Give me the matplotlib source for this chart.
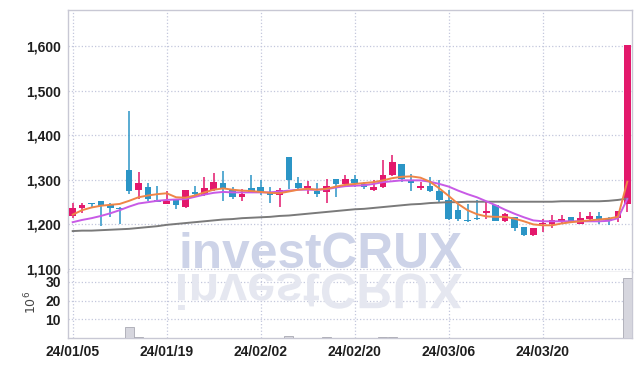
import numpy as np
import matplotlib
matplotlib.use('Agg')
import matplotlib.pyplot as plt
from matplotlib.textpath import TextPath
from matplotlib.patches import PathPatch
from matplotlib.font_manager import FontProperties
from matplotlib.transforms import Affine2D, IdentityTransform

# данные свечей (O, H, L, C)
opens = [1219, 1236, 1249, 1252, 1243, 1238, 1323, 1278, 1283, 1254,
         1245, 1257, 1240, 1272, 1266, 1278, 1293, 1280, 1261, 1281,
         1285, 1271, 1266, 1352, 1292, 1282, 1275, 1272, 1301, 1290,
         1303, 1291, 1277, 1284, 1311, 1336, 1299, 1281, 1287, 1276,
         1254, 1232, 1211, 1214, 1226, 1243, 1207, 1216, 1194, 1177,
         1201, 1202, 1205, 1217, 1202, 1213, 1218, 1213, 1215, 1246]
highs = [1247, 1249, 1249, 1252, 1249, 1240, 1455, 1318, 1293, 1286,
         1275, 1257, 1278, 1286, 1306, 1316, 1321, 1284, 1280, 1312,
         1300, 1284, 1282, 1352, 1306, 1297, 1292, 1301, 1301, 1312,
         1312, 1295, 1299, 1344, 1356, 1336, 1313, 1295, 1306, 1299,
         1278, 1246, 1246, 1254, 1252, 1243, 1226, 1216, 1194, 1191,
         1213, 1222, 1222, 1217, 1228, 1229, 1228, 1217, 1231, 1603]
lows = [1215, 1226, 1237, 1196, 1217, 1202, 1269, 1256, 1252, 1251,
        1245, 1235, 1237, 1266, 1263, 1275, 1252, 1256, 1252, 1271,
        1267, 1248, 1239, 1280, 1280, 1269, 1262, 1248, 1262, 1286,
        1285, 1280, 1274, 1281, 1309, 1295, 1275, 1277, 1273, 1251,
        1211, 1208, 1205, 1211, 1213, 1207, 1205, 1185, 1174, 1175,
        1183, 1193, 1202, 1205, 1200, 1205, 1202, 1198, 1205, 1228]
closes = [1237, 1243, 1245, 1241, 1236, 1235, 1276, 1294, 1258, 1251,
          1252, 1243, 1278, 1268, 1281, 1296, 1281, 1261, 1269, 1273,
          1273, 1266, 1278, 1299, 1281, 1287, 1269, 1287, 1291, 1303,
          1294, 1285, 1285, 1310, 1340, 1303, 1294, 1287, 1275, 1254,
          1213, 1213, 1208, 1212, 1230, 1208, 1224, 1192, 1177, 1191,
          1203, 1209, 1213, 1208, 1215, 1218, 1211, 1208, 1231, 1603]

ma_short = [1222, 1232, 1238, 1242, 1244, 1246, 1253, 1261, 1265, 1268,
            1270, 1261, 1260, 1265, 1272, 1278, 1281, 1278, 1276, 1275,
            1273, 1271, 1270, 1274, 1278, 1280, 1278, 1280, 1285, 1289,
            1291, 1293, 1295, 1299, 1304, 1307, 1308, 1305, 1296, 1281,
            1264, 1246, 1232, 1223, 1218, 1217, 1217, 1213, 1207, 1200,
            1198, 1198, 1202, 1205, 1207, 1209, 1211, 1213, 1217, 1296]
ma_mid = [1205, 1210, 1214, 1219, 1225, 1232, 1240, 1247, 1250, 1253,
          1255, 1256, 1257, 1262, 1267, 1271, 1273, 1272, 1272, 1272,
          1272, 1272, 1274, 1276, 1278, 1278, 1278, 1279, 1283, 1286,
          1287, 1288, 1291, 1295, 1297, 1299, 1299, 1299, 1296, 1291,
          1285, 1276, 1268, 1261, 1252, 1243, 1233, 1224, 1216, 1209,
          1207, 1207, 1207, 1207, 1207, 1207, 1207, 1208, 1214, 1257]
ma_long = [1185, 1186, 1186, 1187, 1188, 1189, 1190, 1192, 1194, 1196,
           1199, 1201, 1203, 1205, 1207, 1209, 1211, 1212, 1214, 1215,
           1216, 1217, 1219, 1220, 1222, 1224, 1226, 1228, 1230, 1232,
           1234, 1235, 1237, 1239, 1241, 1243, 1245, 1246, 1248, 1249,
           1250, 1250, 1251, 1251, 1251, 1251, 1251, 1251, 1251, 1251,
           1251, 1251, 1252, 1252, 1252, 1252, 1252, 1253, 1255, 1258]

# объём, млн
volume = [0.1, 0.1, 0.1, 0.1, 0.1, 0.1, 5.8, 0.6, 0.1, 0.1,
          0.1, 0.1, 0.1, 0.1, 0.1, 0.1, 0.1, 0.1, 0.1, 0.1,
          0.1, 0.1, 0.1, 0.9, 0.1, 0.1, 0.1, 0.5, 0.1, 0.1,
          0.1, 0.1, 0.1, 0.4, 0.5, 0.1, 0.1, 0.1, 0.1, 0.1,
          0.1, 0.1, 0.1, 0.1, 0.1, 0.1, 0.1, 0.1, 0.1, 0.1,
          0.1, 0.1, 0.1, 0.1, 0.1, 0.1, 0.1, 0.1, 0.1, 32.0]

tick_pos = [0, 10, 20, 30, 40, 50]
tick_labels = ['24/01/05', '24/01/19', '24/02/02', '24/02/20', '24/03/06', '24/03/20']
price_ticks = [1100, 1200, 1300, 1400, 1500, 1600]
vol_ticks = [10, 20, 30]

UP = '#e3186c'
DOWN = '#2b95c6'
GRID = '#c3c7dc'
SPINE = '#c8c8d4'
lab_font = ['Liberation Sans', 'DejaVu Sans']

o = np.array(opens, float)
h = np.array(highs, float)
l = np.array(lows, float)
c = np.array(closes, float)
x = np.arange(len(o))
up = c >= o
colors = np.where(up, UP, DOWN)

fig = plt.figure(figsize=(6.42, 3.66), dpi=100)
W, H = 642, 366
ax = fig.add_axes([68 / W, 1 - 272 / H, 564 / W, 262 / H])
vax = fig.add_axes([68 / W, 1 - 338 / H, 564 / W, 66 / H], sharex=ax)

# свечи
ax.vlines(x, l, h, colors=colors, linewidth=1.1, zorder=2)
body_h = np.maximum(np.abs(c - o), 1.5)
ax.bar(x, body_h, bottom=np.minimum(o, c), width=0.7, color=colors,
       linewidth=0, zorder=3)

# скользящие средние
ax.plot(x, ma_long, color='#7a7a7a', linewidth=1.4, zorder=4)
ax.plot(x, ma_mid, color='#c85ae6', linewidth=1.4, zorder=4)
ax.plot(x, ma_short, color='#ef8547', linewidth=1.4, zorder=5)

ax.set_xlim(-0.5, 59.5)
ax.set_ylim(1093, 1682)
ax.set_yticks(price_ticks)
ax.set_yticklabels([f'{v:,}' for v in price_ticks])
ax.set_xticks(tick_pos)
ax.tick_params(axis='x', labelbottom=False, length=0)
ax.tick_params(axis='y', length=0, pad=5, labelsize=10, labelcolor='#1e1e1e')
ax.grid(True, linestyle=':', color=GRID, linewidth=0.9)
ax.set_axisbelow(True)

# объём
vax.bar(x, volume, width=0.95, color='#d6d6de', edgecolor='#a9a9b3',
        linewidth=0.6, zorder=3)
vax.set_ylim(0, 35.2)
vax.set_yticks(vol_ticks)
vax.set_xticks(tick_pos)
vax.set_xticklabels(tick_labels)
vax.tick_params(length=0, labelsize=10, labelcolor='#1e1e1e')
vax.tick_params(axis='y', pad=5)
vax.tick_params(axis='x', pad=5)
vax.grid(True, linestyle=':', color=GRID, linewidth=0.9)
vax.set_axisbelow(True)

for a in (ax, vax):
    for s in a.spines.values():
        s.set_color(SPINE)
        s.set_linewidth(1.0)
    for t in a.get_xticklabels() + a.get_yticklabels():
        t.set_family(lab_font)
        t.set_fontweight('bold')
ax.spines['bottom'].set_color('#b8b8c4')
vax.spines['top'].set_visible(False)

fig.text(31 / W, 1 - 302 / H, r'$10^{6}$', rotation=90, fontsize=9,
         color='#444444', ha='center', va='center')

# водяной знак + отражение
ax.text((178 - 68) / 564, 4 / 262, 'investCRUX',
        transform=ax.transAxes, family=lab_font, fontweight='bold',
        fontsize=35.7, color='#cdd3e8', ha='left', va='baseline', zorder=1)
wm = TextPath((0, 0), 'investCRUX', size=50,
              prop=FontProperties(family=lab_font, weight='bold'))
ext = wm.get_extents()
sx = 284 / ext.width
sy = 36 / ext.y1
x0 = 178 - ext.x0 * sx
refl_tr = Affine2D().scale(sx, -sy).translate(x0, H - 274) + IdentityTransform()
vax.add_patch(PathPatch(wm, transform=refl_tr, facecolor='#e5e7f0',
                        edgecolor='none', zorder=1, clip_on=False))

fig.savefig('out.png', dpi=100)
